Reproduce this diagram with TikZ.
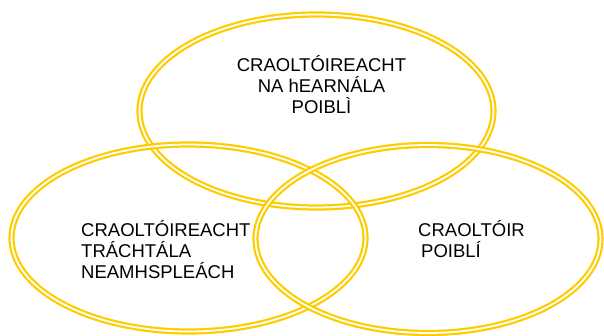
\documentclass[tikz,border=0pt]{standalone}
\usepackage{fontspec}
\setmainfont{Liberation Sans}
\usepackage{tikz}
\definecolor{ringgold}{HTML}{FFCC00}

\begin{document}
\begin{tikzpicture}[x=1pt, y=-1pt,
    ring/.style={draw=ringgold, double=white, line width=2.2pt, double distance=1.8pt},
    label/.style={inner sep=0pt, font=\fontsize{18.5}{21}\selectfont}]
      \useasboundingbox (0,0) rectangle (604,335);

      \draw[ring] (316.5,111) ellipse [x radius=177, y radius=96.5];
      \draw[ring] (188.5,238) ellipse [x radius=177, y radius=93.5];
      \draw[ring] (428,239) ellipse [x radius=172.5, y radius=94];

      \node (public) at (321.5,113) [label, anchor=base, align=center]
        {CRAOLTÓIREACHT\\NA hEARNÁLA\\POIBLÌ};
      \node (commercial) at (81,278) [label, anchor=base west, align=left]
        {CRAOLTÓIREACHT\\TRÁCHTÁLA\\NEAMHSPLEÁCH};
      \node (broadcaster) at (418,257) [label, anchor=base west, align=left]
        {CRAOLTÓIR\\\hspace{3pt}POIBLÍ};
    \end{tikzpicture}
\end{document}
